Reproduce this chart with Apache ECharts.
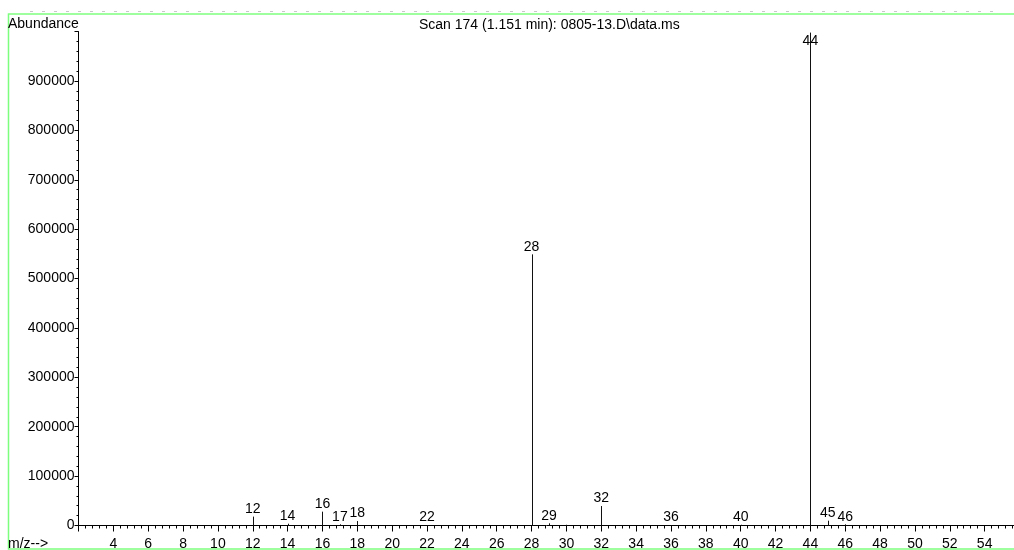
<!DOCTYPE html>
<html>
<head>
<meta charset="utf-8">
<script src="https://cdn.jsdelivr.net/npm/echarts@6/dist/echarts.min.js"></script>
<style>
  html, body { margin: 0; padding: 0; background: #fff; }
  #chart { width: 1014px; height: 550px; }
</style>
</head>
<body>
<div id="chart"></div>
<script>
// Mass spectrum, scan 174
const mzValues = [12, 14, 16, 17, 18, 22, 28, 29, 30, 32, 36, 40, 44, 45, 46];
const abundance = [18000, 3600, 28000, 2400, 9000, 1000, 549000, 4400, 1500, 39400, 1000, 1500, 998000, 9700, 2400];
const labelledMz = [12, 14, 16, 17, 18, 22, 28, 29, 32, 36, 40, 44, 45, 46];

const scanTitle = 'Scan 174 (1.151 min): 0805-13.D\\data.ms';
const yTitle = 'Abundance';
const xTitle = 'm/z-->';

const FONT = '"Liberation Sans", Arial, sans-serif';

const peaks = mzValues.map((m, i) => [m, abundance[i], labelledMz.includes(m) ? 1 : 0]);

const chart = echarts.init(document.getElementById('chart'), null, { renderer: 'canvas' });

chart.setOption({
  animation: false,
  backgroundColor: '#ffffff',
  // plot area runs a little past the right edge of the canvas
  grid: {
    left: 78.5, right: -5.5, top: 31.6, bottom: 24.5,
    containLabel: false, outerBoundsMode: 'none'
  },
  xAxis: {
    type: 'value',
    min: 2,
    max: 56,
    interval: 2,
    axisLine: { show: true, lineStyle: { color: '#000', width: 1 } },
    axisTick: { show: true, length: 6, lineStyle: { color: '#000' } },
    minorTick: { show: true, splitNumber: 5, length: 3, lineStyle: { color: '#000' } },
    splitLine: { show: false },
    axisLabel: {
      margin: 12, color: '#000', fontSize: 14, fontFamily: FONT,
      showMinLabel: false, showMaxLabel: false
    }
  },
  yAxis: {
    type: 'value',
    min: 0,
    max: 1000000,
    interval: 100000,
    axisLine: { show: true, lineStyle: { color: '#000', width: 1 } },
    axisTick: { show: true, length: 4, lineStyle: { color: '#000' } },
    minorTick: { show: true, splitNumber: 5, length: 2, lineStyle: { color: '#000' } },
    splitLine: { show: false },
    axisLabel: {
      margin: 4, color: '#000', fontSize: 14, fontFamily: FONT,
      showMaxLabel: false,
      formatter: function (v) { return String(v); }
    }
  },
  series: [{
    type: 'custom',
    clip: false,
    data: peaks,
    renderItem: function (params, api) {
      const m = api.value(0);
      const v = api.value(1);
      const top = api.coord([m, v]);
      const base = api.coord([m, 0]);
      const x = Math.round(top[0]) + 0.5;
      const children = [{
        type: 'line',
        shape: { x1: x, y1: base[1], x2: x, y2: top[1] },
        style: { stroke: '#111', lineWidth: 1 }
      }];
      if (api.value(2)) {
        const gridTop = params.coordSys.y;
        let ty = top[1] - 7.5;
        if (ty - 7 < gridTop) ty = top[1] + 9;
        children.push({
          type: 'text',
          style: {
            text: String(m), x: top[0], y: ty,
            align: 'center', verticalAlign: 'middle',
            fill: '#000', font: '14px ' + FONT
          }
        });
      }
      return { type: 'group', children: children };
    }
  }],
  graphic: [
    {
      type: 'line', silent: true, z: 0,
      shape: { x1: 30, y1: 11.5, x2: 1000, y2: 11.5 },
      style: { stroke: '#c8c8c8', lineWidth: 1, lineDash: [3, 9] }
    },
    {
      type: 'rect', silent: true, z: 0,
      shape: { x: 8.5, y: 14, width: 1100, height: 535 },
      style: { fill: null, stroke: '#7dff7d', lineWidth: 1.5 }
    },
    {
      type: 'text', left: 8, top: 17,
      style: { text: yTitle, fill: '#000', font: '14px ' + FONT }
    },
    {
      type: 'text', left: 419, top: 18,
      style: { text: scanTitle, fill: '#000', font: '14px ' + FONT }
    },
    {
      type: 'text', left: 8, top: 537,
      style: { text: xTitle, fill: '#000', font: '14px ' + FONT }
    }
  ]
});
</script>
</body>
</html>
